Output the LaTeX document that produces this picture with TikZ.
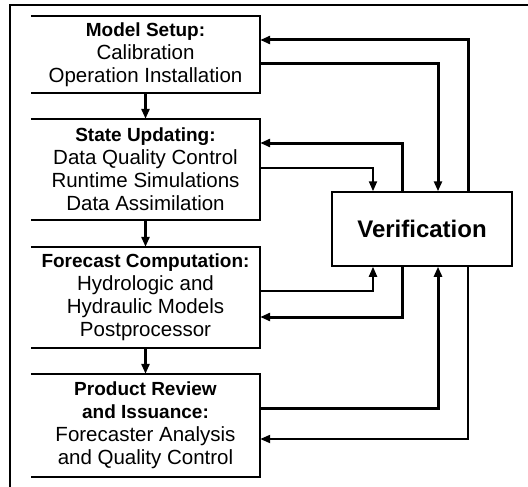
\documentclass[tikz,border=0pt]{standalone}
\usepackage{fontspec}
\setmainfont{Liberation Sans}
\usetikzlibrary{arrows.meta}
\newcommand{\hd}[1]{{\fontsize{19}{23}\selectfont\bfseries #1}}
\begin{document}
\begin{tikzpicture}[x=1pt,y=-1pt,
  txt/.style={align=center,inner sep=0pt,font=\fontsize{20.5}{23}\selectfont},
  boxline/.style={line width=1.5pt},
  thin/.style={line width=2pt,-{Triangle[length=10pt,width=8pt]}},
  thk/.style={line width=3pt,-{Triangle[length=10pt,width=8pt]}}]
\useasboundingbox (0,0) rectangle (528,487);
\draw[line width=2pt] (10,489) -- (10,5) -- (530,5);
% left boxes (text nodes)
\node[txt,minimum width=229pt,minimum height=77pt] (ms) at (145.5,54.5)
  {\hd{Model Setup:}\\Calibration\\Operation Installation};
\node[txt,minimum width=229pt,minimum height=101pt] (su) at (145.5,169.5)
  {\hd{State Updating:}\\Data Quality Control\\Runtime Simulations\\Data Assimilation};
\node[txt,minimum width=229pt,minimum height=101pt] (fc) at (145.5,297.5)
  {\hd{Forecast Computation:}\\Hydrologic and\\Hydraulic Models\\Postprocessor};
\node[txt,minimum width=229pt,minimum height=103pt] (pr) at (145.5,425.5)
  {\hd{Product Review}\\\hd{and Issuance:}\\Forecaster Analysis\\and Quality Control};
\foreach \b in {ms,su,fc,pr}
  \draw[boxline] (\b.north west) -- (\b.north east) -- (\b.south east) -- (\b.south west);
% verification
\node[draw,line width=1.5pt,minimum width=180pt,minimum height=74pt,inner sep=0pt,
  font=\fontsize{24}{28}\selectfont\bfseries] (ver) at (422,229) {Verification};
% down arrows
\draw[thk] (ms.south) -- (su.north);
\draw[thk] (su.south) -- (fc.north);
\draw[thk] (fc.south) -- (pr.north);
% feedback connectors
\draw[thk] ([xshift=46pt]ver.north) |- ([yshift=14.5pt]ms.east);
\draw[thk] ([yshift=-9.5pt]ms.east) -| ([xshift=16pt]ver.north);
\draw[thk] ([xshift=-20pt]ver.north) |- ([yshift=26.5pt]su.east);
\draw[thin] ([yshift=1.5pt]su.east) -| ([xshift=-49pt]ver.north);
\draw[thin] ([yshift=6.5pt]fc.east) -| ([xshift=-49pt]ver.south);
\draw[thk] ([xshift=-20pt]ver.south) |- ([yshift=-19.5pt]fc.east);
\draw[thk] ([yshift=17.5pt]pr.east) -| ([xshift=16pt]ver.south);
\draw[thin] ([xshift=46pt]ver.south) |- ([yshift=-13.5pt]pr.east);
\end{tikzpicture}
\end{document}
